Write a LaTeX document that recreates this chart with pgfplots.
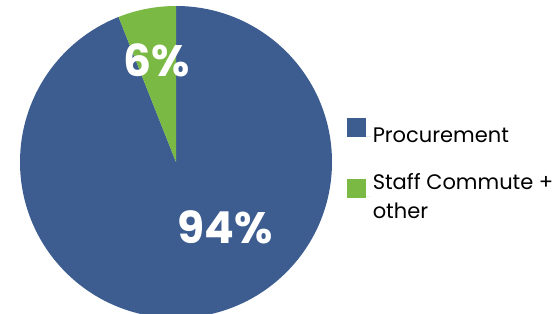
\documentclass[border=0pt]{standalone}
\usepackage{pgfplots}
\pgfplotsset{compat=1.18}
\usepackage{fontspec}
\setmainfont{Poppins}
\definecolor{pieblue}{RGB}{61,93,145}
\definecolor{piegreen}{RGB}{122,185,67}
% shares (percent)
\pgfmathsetmacro\procurement{94}
\pgfmathsetmacro\staff{6}
\begin{document}
\begin{tikzpicture}
\useasboundingbox (0,0) rectangle (553pt,313pt);
\begin{axis}[at={(20pt,-5pt)}, anchor=south west,
  width=312pt, height=312pt, scale only axis,
  xmin=-1, xmax=1, ymin=-1, ymax=1, hide axis, clip=false,
  legend style={at={(1.037,0.647)}, anchor=north west, draw=none, fill=none,
    font=\fontsize{21}{29}\selectfont, row sep=25pt,
    nodes={align=left}},
  legend cell align=left,
  legend image code/.code={\fill[#1] (0pt,-1pt) rectangle (19pt,18pt); \path (0pt,0pt) -- (24pt,0pt);}]
\addplot[fill=pieblue, draw=none] coordinates {(0,0) (0,1)}
  arc[start angle=90, delta angle=-3.6*\procurement, radius=156pt] -- cycle;
\addlegendentry{Procurement}
\addplot[fill=piegreen, draw=none] coordinates {(0,0) (0,1)}
  arc[start angle=90, delta angle=3.6*\staff, radius=156pt] -- cycle;
\addlegendentry{Staff Commute +\\other}
\node[text=white, font=\fontsize{44}{44}\selectfont\bfseries] at (axis cs:-0.122,0.654) {6\%};
\node[text=white, font=\fontsize{44}{44}\selectfont\bfseries] at (axis cs:0.314,-0.417) {94\%};
\end{axis}
\end{tikzpicture}
\end{document}
